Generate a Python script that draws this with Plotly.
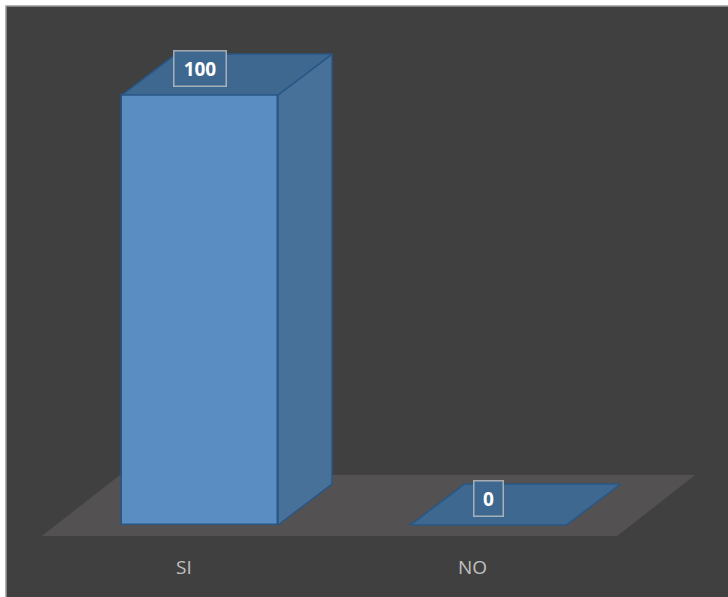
import plotly.graph_objects as go

# ---- data ----
categories = ["SI", "NO"]
values = [100, 0]
value_labels = ["100", "0"]

# ---- styling constants ----
W, H = 728, 597
x_range = [-0.6724, 1.8302]   # category index units
y_range = [-16.74, 120.70]    # value units
bar_w = 0.5407                # bar width (category units)
depth_x, depth_y = 0.1872, 9.53   # 3D depth offset
floor_front, floor_back = -2.56, 11.63
floor_left, floor_right, floor_shift = -0.548, 1.446, 0.2704
label_shift_x, label_y = -0.057, -9.77
value_label_gap = 6.28

BG = "#404040"
FRONT = "#5a8ec3"
SIDE = "#48719a"
TOP = "#3e6890"
EDGE = "#285786"
FLOOR = "#535151"
TEXT = "#c0c0c0"

fig = go.Figure()

# front faces
fig.add_trace(go.Bar(
    x=list(range(len(categories))), y=values, width=bar_w,
    marker=dict(color=FRONT, line=dict(color=EDGE, width=1.5)),
    hoverinfo="skip", showlegend=False,
))

# side and top faces
for i, v in enumerate(values):
    x0, x1 = i - bar_w / 2, i + bar_w / 2
    if v > 0:
        fig.add_trace(go.Scatter(
            x=[x1, x1 + depth_x, x1 + depth_x, x1, x1],
            y=[0, depth_y, v + depth_y, v, 0],
            fill="toself", fillcolor=SIDE, mode="lines",
            line=dict(color=EDGE, width=1.5), hoverinfo="skip", showlegend=False,
        ))
    fig.add_trace(go.Scatter(
        x=[x0, x1, x1 + depth_x, x0 + depth_x, x0],
        y=[v, v, v + depth_y, v + depth_y, v],
        fill="toself", fillcolor=TOP, mode="lines",
        line=dict(color=EDGE, width=1.5), hoverinfo="skip", showlegend=False,
    ))

shapes = [
    # floor
    dict(type="path", xref="x", yref="y", layer="below",
         path=(f"M {floor_left},{floor_front} L {floor_right},{floor_front} "
               f"L {floor_right + floor_shift},{floor_back} "
               f"L {floor_left + floor_shift},{floor_back} Z"),
         fillcolor=FLOOR, line=dict(width=0)),
    # outer frame line
    dict(type="rect", xref="paper", yref="paper", x0=0, x1=1.02, y0=-0.02, y1=1,
         line=dict(color="#9a9a9a", width=1.5), fillcolor="rgba(0,0,0,0)"),
]

annotations = []
for i, (c, v, t) in enumerate(zip(categories, values, value_labels)):
    annotations.append(dict(
        x=i + label_shift_x, y=label_y, xref="x", yref="y", text=c, showarrow=False,
        font=dict(family="Open Sans", size=19, color=TEXT),
    ))
    annotations.append(dict(
        x=i, y=v + value_label_gap, xref="x", yref="y", text=f"<b>{t}</b>",
        showarrow=False, font=dict(family="Open Sans", size=19, color="white"),
        width=45 if len(t) > 1 else 22, height=28, borderpad=3, borderwidth=1.5,
        bordercolor="rgba(200,200,200,0.75)", bgcolor=TOP,
    ))

fig.update_layout(
    width=W, height=H, autosize=False,
    margin=dict(l=6, t=6, r=0, b=0, pad=0),
    paper_bgcolor="white", plot_bgcolor=BG,
    xaxis=dict(range=x_range, visible=False, fixedrange=True),
    yaxis=dict(range=y_range, visible=False, fixedrange=True),
    shapes=shapes, annotations=annotations, bargap=0,
)

fig.write_html(
    "out.html",
    config={"displayModeBar": False},
    post_script="document.body.style.margin='0';document.body.style.overflow='hidden';",
)
